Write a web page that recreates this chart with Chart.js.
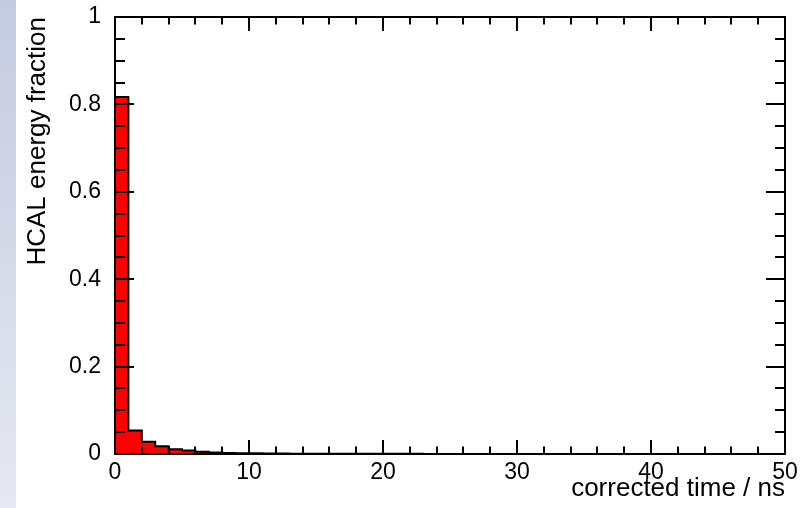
<!DOCTYPE html>
<html>
<head>
<meta charset="utf-8">
<script src="https://cdn.jsdelivr.net/npm/chart.js@4"></script>
<style>
  html, body { margin: 0; padding: 0; background: #fff; }
  #wrap { position: relative; width: 812px; height: 508px; }
  #strip {
    position: absolute; left: 0; top: 0; width: 16px; height: 508px;
    background: linear-gradient(#c3cbdf, #e6e9f1);
  }
  #hist { position: absolute; left: 0; top: 0; }
</style>
</head>
<body>
<div id="wrap">
  <div id="strip"></div>
  <canvas id="hist" width="812" height="508"></canvas>
</div>
<script>
// bin edges in ns (1 ns bins)
const timeEdges = [0, 1, 2, 3, 4, 5, 6, 7, 8, 9, 10, 11, 12, 13, 14, 15, 16, 17, 18, 19, 20,
  21, 22, 23, 24, 25, 26, 27, 28, 29, 30, 31, 32, 33, 34, 35, 36, 37, 38, 39, 40,
  41, 42, 43, 44, 45, 46, 47, 48, 49, 50];

// HCAL energy fraction per bin
const energyFraction = [0.817, 0.054, 0.028, 0.018, 0.011, 0.008, 0.005, 0.0035, 0.0025, 0.002,
  0.0015, 0.0012, 0.001, 0.0008, 0.0007, 0.0006, 0.0005, 0.0005, 0.0004, 0.0004,
  0.0003, 0.0003, 0.0003, 0.0002, 0.0002, 0.0002, 0.0002, 0.0001, 0.0001, 0.0001,
  0.0001, 0.0001, 0.0001, 0.0001, 0.0001, 0.0001, 0.0001, 0.0001, 0.0001, 0.0001,
  0.0001, 0.0001, 0.0001, 0.0001, 0.0001, 0.0001, 0.0001, 0.0001, 0.0001, 0.0001];

const xMajor = 10, xMinor = 2;
const yMajor = 0.2, yMinor = 0.05;

const FONT = "'Liberation Sans', Arial, sans-serif";

// step points: each edge carries the value of the bin to its right
const points = timeEdges.map((t, i) => ({
  x: t,
  y: energyFraction[Math.min(i, energyFraction.length - 1)]
}));

// frame + inward ticks on all four sides
const framePlugin = {
  id: 'frameTicks',
  afterDatasetsDraw(chart) {
    const { ctx, chartArea: a, scales: { x, y } } = chart;
    ctx.save();
    ctx.strokeStyle = '#000';
    ctx.lineWidth = 2;
    ctx.lineCap = 'square';
    ctx.beginPath();
    for (let v = x.min; v <= x.max + 1e-9; v += xMinor) {
      const px = Math.round(x.getPixelForValue(v));
      const len = Math.abs(v / xMajor - Math.round(v / xMajor)) < 1e-6 ? 13 : 6.5;
      ctx.moveTo(px, a.bottom); ctx.lineTo(px, a.bottom - len);
      ctx.moveTo(px, a.top); ctx.lineTo(px, a.top + len);
    }
    for (let v = y.min; v <= y.max + 1e-9; v += yMinor) {
      const py = Math.round(y.getPixelForValue(v));
      const len = Math.abs(v / yMajor - Math.round(v / yMajor)) < 1e-6 ? 18 : 9;
      ctx.moveTo(a.left, py); ctx.lineTo(a.left + len, py);
      ctx.moveTo(a.right, py); ctx.lineTo(a.right - len, py);
    }
    ctx.stroke();
    ctx.lineCap = 'butt';
    ctx.strokeRect(a.left, a.top, a.right - a.left, a.bottom - a.top);
    ctx.restore();
  }
};

new Chart(document.getElementById('hist'), {
  type: 'line',
  data: {
    datasets: [{
      data: points,
      stepped: true,
      fill: 'origin',
      backgroundColor: '#ff0000',
      borderColor: '#000',
      borderWidth: 2,
      pointRadius: 0
    }]
  },
  options: {
    responsive: false,
    animation: false,
    layout: { padding: { top: 17, right: 27, left: 0, bottom: 0 } },
    plugins: { legend: { display: false }, tooltip: { enabled: false } },
    scales: {
      x: {
        type: 'linear',
        min: 0, max: 50,
        grid: { display: false, drawTicks: false },
        border: { display: false },
        ticks: { stepSize: xMajor, padding: 5, color: '#000', maxRotation: 0,
                 font: { family: FONT, size: 23 } },
        title: { display: true, text: 'corrected time / ns', align: 'end', color: '#000',
                 padding: { top: 0, bottom: 4 }, font: { family: FONT, size: 26 } },
        afterFit(scale) {
          scale.height = 54;
          scale.paddingLeft = 0;
          scale.paddingRight = 0;
        }
      },
      y: {
        min: 0, max: 1,
        grid: { display: false, drawTicks: false },
        border: { display: false },
        ticks: { stepSize: yMajor, padding: 14, color: '#000',
                 font: { family: FONT, size: 23 },
                 callback: v => String(+v.toFixed(2)) },
        title: { display: true, text: 'HCAL energy fraction', align: 'end', color: '#000',
                 padding: { top: 22, bottom: 0 }, font: { family: FONT, size: 26 } },
        afterFit(scale) {
          scale.width = 115;
          scale.paddingTop = 0;
          scale.paddingBottom = 0;
        }
      }
    }
  },
  plugins: [framePlugin]
});
</script>
</body>
</html>
